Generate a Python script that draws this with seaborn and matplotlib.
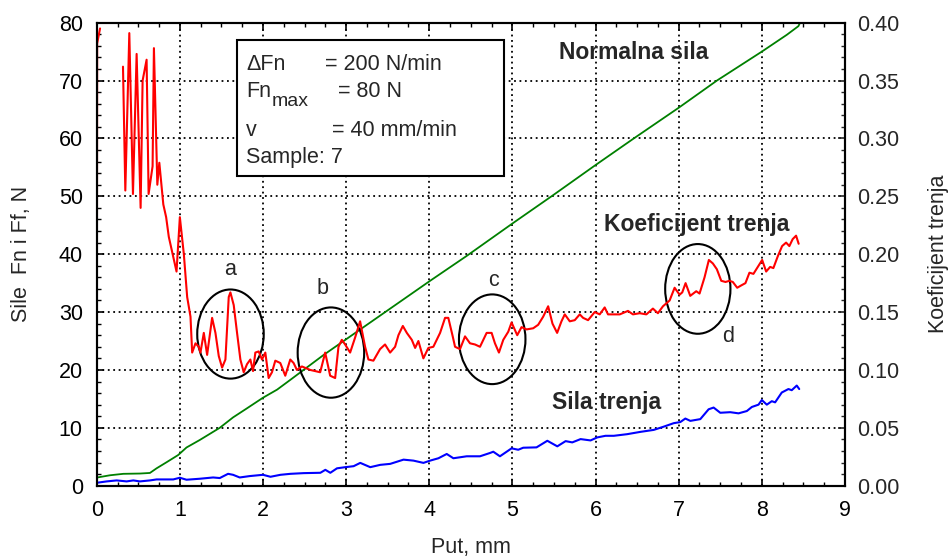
import numpy as np
import pandas as pd
import matplotlib
matplotlib.use("Agg")
import matplotlib.pyplot as plt
import seaborn as sns
from matplotlib.patches import Ellipse, Rectangle
from matplotlib.ticker import MultipleLocator, FormatStrFormatter

# --- Normal force (N) vs. sliding distance (mm) ---
put_fn = [0.00, 0.16, 0.32, 0.52, 0.64, 0.72, 0.84, 0.98, 1.08, 1.24, 1.48, 1.64,
          1.80, 2.00, 2.17, 2.33, 2.73, 3.17, 3.41, 3.53, 4.01, 4.45, 5.01,
          5.49, 5.99, 6.46, 7.00, 7.46, 8.00, 8.30, 8.44, 8.46]
sila_fn = [1.4, 1.8, 2.05, 2.1, 2.2, 3.0, 4.05, 5.3, 6.6, 7.9, 10.0, 11.8,
           13.3, 15.2, 16.6, 18.3, 22.6, 27.0, 29.4, 30.6, 35.4, 39.7, 45.4,
           50.2, 55.3, 60.0, 65.3, 70.0, 75.0, 77.9, 79.4, 80.0]

# --- Friction force (N) ---
put_ff = [0.00, 0.12, 0.24, 0.36, 0.44, 0.52, 0.64, 0.72, 0.92, 1.00, 1.08, 1.24,
          1.40, 1.48, 1.58, 1.64, 1.72, 1.84, 2.00, 2.09, 2.21, 2.33, 2.49, 2.69,
          2.75, 2.81, 2.89, 2.99, 3.09, 3.17, 3.29, 3.41, 3.53, 3.69, 3.81, 3.93,
          4.01, 4.11, 4.21, 4.29, 4.45, 4.61, 4.73, 4.77, 4.85, 4.99, 5.07, 5.13,
          5.29, 5.42, 5.54, 5.64, 5.72, 5.82, 5.94, 6.02, 6.12, 6.22, 6.38, 6.54,
          6.70, 6.82, 6.94, 7.02, 7.08, 7.14, 7.26, 7.36, 7.42, 7.50, 7.62, 7.72,
          7.82, 7.88, 7.96, 8.00, 8.06, 8.12, 8.16, 8.24, 8.32, 8.36, 8.42, 8.45]
sila_ff = [0.5, 0.74, 0.91, 0.74, 0.91, 0.74, 0.91, 1.08, 1.08, 1.37, 1.03, 1.2,
           1.42, 1.32, 2.05, 1.88, 1.42, 1.66, 1.88, 1.54, 1.88, 2.05, 2.17, 2.23,
           2.74, 2.23, 3.0, 3.2, 3.37, 3.94, 3.2, 3.6, 3.77, 4.5, 4.33, 3.94,
           4.33, 4.74, 5.48, 4.74, 5.08, 5.08, 5.65, 5.87, 5.08, 6.45, 6.21, 6.56,
           6.62, 7.76, 6.8, 7.7, 7.48, 8.05, 7.82, 8.34, 8.62, 8.62, 8.9, 9.3,
           9.64, 10.2, 10.8, 11.0, 11.6, 11.2, 11.5, 13.2, 13.5, 12.6, 12.7, 12.5,
           12.9, 13.6, 14.0, 14.8, 14.0, 14.6, 14.4, 16.1, 16.7, 16.5, 17.3, 16.7]

# --- Coefficient of friction (two recorded segments) ---
put_mu_start = [0.00, 0.005, 0.04]
mu_start = [0.000, 0.382, 0.395]

put_mu = [0.316, 0.344, 0.392, 0.436, 0.480, 0.528, 0.552, 0.600, 0.624, 0.672,
          0.688, 0.729, 0.753, 0.801, 0.835, 0.867, 0.960, 1.000, 1.048, 1.088,
          1.128, 1.148, 1.188, 1.228, 1.248, 1.288, 1.328, 1.388, 1.428, 1.468,
          1.508, 1.548, 1.588, 1.608, 1.648, 1.688, 1.728, 1.768, 1.808, 1.848,
          1.880, 1.908, 1.948, 1.988, 2.028, 2.068, 2.108, 2.148, 2.208, 2.268,
          2.328, 2.368, 2.408, 2.468, 2.568, 2.688, 2.748, 2.808, 2.868, 2.908,
          2.948, 2.988, 3.048, 3.108, 3.168, 3.228, 3.268, 3.328, 3.408, 3.468,
          3.529, 3.589, 3.629, 3.682, 3.730, 3.790, 3.830, 3.869, 3.929, 3.989,
          4.049, 4.130, 4.190, 4.229, 4.282, 4.310, 4.370, 4.430, 4.490, 4.550,
          4.610, 4.690, 4.750, 4.790, 4.838, 4.890, 4.950, 4.990, 5.058, 5.110,
          5.170, 5.250, 5.310, 5.370, 5.430, 5.482, 5.538, 5.590, 5.630, 5.690,
          5.750, 5.810, 5.850, 5.910, 5.990, 6.050, 6.110, 6.150, 6.210, 6.291,
          6.390, 6.450, 6.531, 6.611, 6.690, 6.750, 6.811, 6.891, 6.951, 7.011,
          7.043, 7.083, 7.139, 7.211, 7.251, 7.311, 7.363, 7.411, 7.459, 7.512,
          7.563, 7.611, 7.651, 7.704, 7.752, 7.803, 7.851, 7.899, 7.951, 8.004,
          8.052, 8.100, 8.139, 8.191, 8.244, 8.292, 8.331, 8.371, 8.412, 8.443]
mu = [0.362, 0.255, 0.391, 0.252, 0.373, 0.240, 0.350, 0.368, 0.252, 0.276,
      0.378, 0.260, 0.279, 0.243, 0.232, 0.215, 0.185, 0.232, 0.200, 0.163,
      0.146, 0.115, 0.123, 0.120, 0.115, 0.132, 0.113, 0.145, 0.132, 0.112,
      0.102, 0.109, 0.163, 0.167, 0.156, 0.132, 0.109, 0.098, 0.105, 0.109,
      0.099, 0.115, 0.116, 0.109, 0.115, 0.093, 0.098, 0.108, 0.106, 0.095,
      0.109, 0.106, 0.100, 0.103, 0.100, 0.098, 0.115, 0.095, 0.093, 0.120,
      0.126, 0.122, 0.115, 0.128, 0.142, 0.120, 0.109, 0.108, 0.118, 0.122,
      0.115, 0.120, 0.130, 0.138, 0.132, 0.126, 0.119, 0.125, 0.110, 0.119,
      0.120, 0.132, 0.145, 0.145, 0.129, 0.120, 0.118, 0.129, 0.123, 0.122,
      0.120, 0.132, 0.132, 0.123, 0.115, 0.126, 0.133, 0.141, 0.130, 0.137,
      0.135, 0.136, 0.139, 0.146, 0.155, 0.140, 0.132, 0.142, 0.148, 0.142,
      0.143, 0.148, 0.145, 0.143, 0.150, 0.148, 0.154, 0.148, 0.148, 0.148,
      0.151, 0.148, 0.149, 0.148, 0.153, 0.149, 0.155, 0.160, 0.171, 0.165,
      0.167, 0.175, 0.164, 0.168, 0.166, 0.180, 0.195, 0.192, 0.187, 0.177,
      0.176, 0.177, 0.176, 0.171, 0.173, 0.175, 0.184, 0.183, 0.189, 0.195,
      0.185, 0.189, 0.188, 0.198, 0.207, 0.210, 0.207, 0.213, 0.216, 0.209]

# Marked regions of interest: label, centre (mm, N), width (mm), height (N)
region_labels = ["a", "b", "c", "d"]
region_centres = [(1.609, 26.2), (2.817, 23.0), (4.757, 25.3), (7.23, 34.0)]
region_sizes = [(0.80, 15.4), (0.80, 15.6), (0.80, 15.5), (0.785, 15.5)]
region_label_pos = [(1.604, 37.3), (2.715, 34.0), (4.77, 35.5), (7.59, 25.7)]

x_ticks = list(range(0, 10))
fn_ticks = list(range(0, 90, 10))
mu_ticks = [0.00, 0.05, 0.10, 0.15, 0.20, 0.25, 0.30, 0.35, 0.40]

df_fn = pd.DataFrame({"put": put_fn, "sila": sila_fn})
df_ff = pd.DataFrame({"put": put_ff, "sila": sila_ff})
df_mu = pd.concat([
    pd.DataFrame({"put": put_mu_start, "mu": mu_start, "seg": 0}),
    pd.DataFrame({"put": put_mu, "mu": mu, "seg": 1}),
], ignore_index=True)

sns.set_style("ticks")
plt.rcParams["font.family"] = ["Liberation Sans", "DejaVu Sans"]
plt.rcParams["axes.linewidth"] = 1.5

FS = 15.5

fig = plt.figure(figsize=(9.51, 5.60), dpi=100)
ax1 = fig.add_axes([0.1017, 0.1327, 0.7868, 0.8268])
ax2 = ax1.twinx()

sns.lineplot(data=df_fn, x="put", y="sila", ax=ax1, color="#008000",
             linewidth=1.3, estimator=None, sort=False)
sns.lineplot(data=df_ff, x="put", y="sila", ax=ax1, color="#0000ff",
             linewidth=1.5, estimator=None, sort=False)
sns.lineplot(data=df_mu, x="put", y="mu", units="seg", ax=ax2, color="#ff0000",
             linewidth=1.5, estimator=None, sort=False, legend=False)

ax1.set_xlim(0, 9)
ax1.set_ylim(0, 80)
ax2.set_ylim(0, 0.40)

ax1.set_xticks(x_ticks)
ax1.set_yticks(fn_ticks)
ax2.set_yticks(mu_ticks)
ax2.yaxis.set_major_formatter(FormatStrFormatter("%.2f"))
ax1.xaxis.set_minor_locator(MultipleLocator(0.25))
ax1.yaxis.set_minor_locator(MultipleLocator(2))
ax2.yaxis.set_minor_locator(MultipleLocator(0.01))

ax1.tick_params(axis="both", which="both", direction="in", colors="black",
                labelsize=FS, top=True, right=False)
ax1.tick_params(axis="both", which="major", length=5, width=1.2)
ax1.tick_params(axis="both", which="minor", length=3, width=1.0)
ax1.tick_params(axis="y", pad=10)
ax1.tick_params(axis="x", pad=10)
ax2.tick_params(axis="y", which="both", direction="in", labelsize=FS)
ax2.tick_params(axis="y", which="major", length=5, width=1.2, pad=9)
ax2.tick_params(axis="y", which="minor", length=3, width=1.0)

ax1.set_axisbelow(True)
ax1.grid(True, which="major", color="black", linestyle=(0, (1, 2)), linewidth=1.3)
ax2.grid(False)

for sp in list(ax1.spines.values()) + list(ax2.spines.values()):
    sp.set_color("black")
    sp.set_linewidth(1.5)

ax1.set_xlabel("Put, mm", fontsize=FS, labelpad=12)
ax1.set_ylabel("Sile  Fn i Ff, N", fontsize=FS, labelpad=19)
ax2.set_ylabel("Koeficijent trenja", fontsize=FS, labelpad=20)

# regions of interest
for lab, c, s, lp in zip(region_labels, region_centres, region_sizes, region_label_pos):
    ax1.add_patch(Ellipse(c, s[0], s[1], fill=False, edgecolor="black",
                          linewidth=1.5, zorder=3))
    ax1.text(lp[0], lp[1], lab, fontsize=FS, ha="center", va="center", zorder=4)

# curve names
bold = dict(fontsize=16.5, fontweight="bold", ha="center", va="center", zorder=4)
ax1.text(6.46, 74.8, "Normalna sila", **bold)
ax1.text(7.22, 45.2, "Koeficijent trenja", **bold)
ax1.text(6.13, 14.3, "Sila trenja", **bold)

# test parameters box
ax1.add_patch(Rectangle((1.685, 53.5), 4.894 - 1.685, 77.0 - 53.5, facecolor="white",
                        edgecolor="black", linewidth=1.5, zorder=2))
txt = dict(fontsize=FS, va="baseline", zorder=4)
ax1.text(1.797, 71.8, "\u0394Fn", **txt)
ax1.text(2.747, 71.8, "= 200 N/min", **txt)
ax1.text(1.797, 67.2, "Fn", **txt)
ax1.text(2.105, 65.6, "max", fontsize=FS - 1.5, va="baseline", zorder=4)
ax1.text(2.907, 67.2, "= 80 N", **txt)
ax1.text(1.797, 60.4, "v", **txt)
ax1.text(2.828, 60.4, "= 40 mm/min", **txt)
ax1.text(1.797, 55.7, "Sample: 7", **txt)

fig.savefig("out.png", dpi=100, facecolor="white")
